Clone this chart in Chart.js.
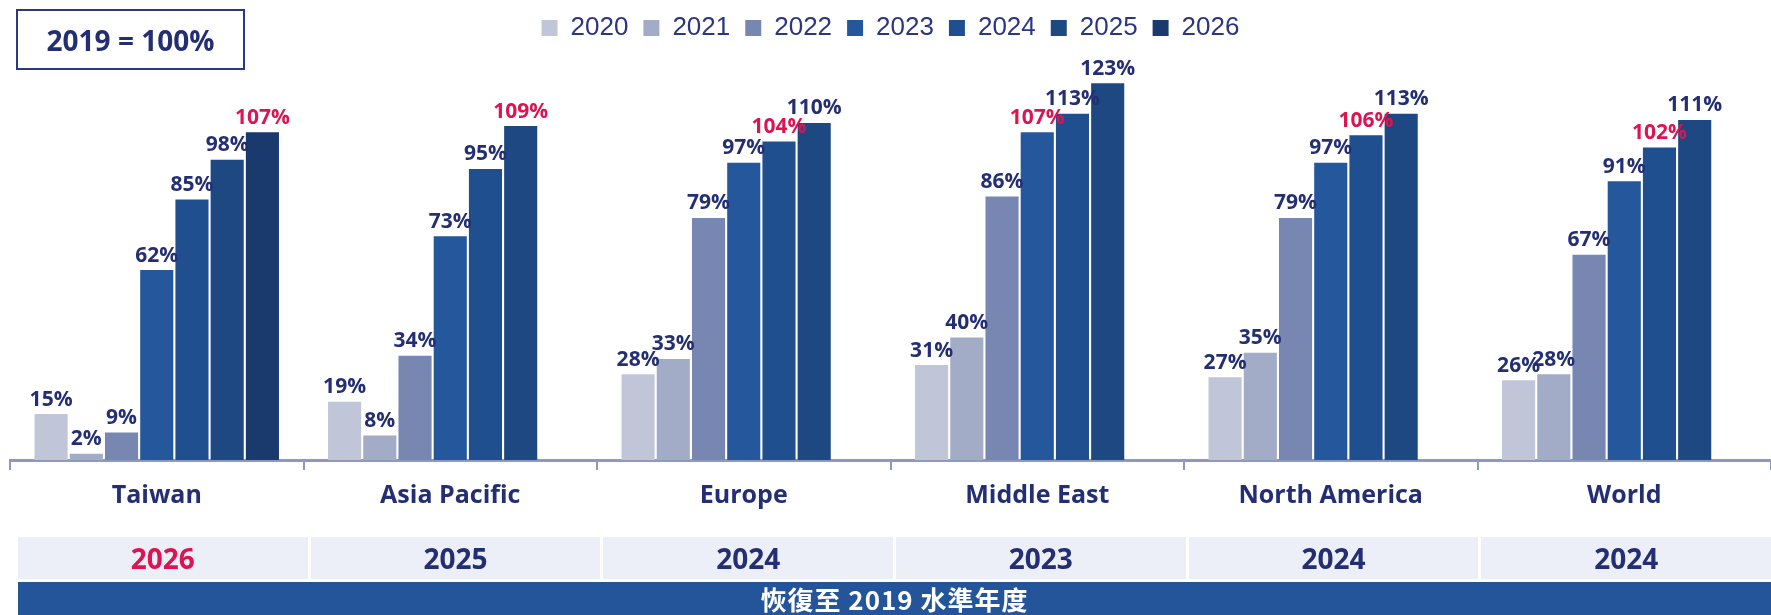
<!DOCTYPE html>
<html>
<head>
<meta charset="utf-8">
<script src="https://cdn.jsdelivr.net/npm/chart.js@4.4.1/dist/chart.umd.min.js"></script>
<style>
  body { margin: 0; background: #fff; }
  #wrap { position: relative; width: 1771px; height: 615px; overflow: hidden; }
  #chartBox { position: absolute; left: 0; top: 0; width: 1771px; height: 615px; }
  #baseBox {
    position: absolute; left: 16px; top: 9px; width: 225px; height: 57px;
    border: 2px solid #2b3a80; color: #232f72;
    font: bold 28px "Open Sans", sans-serif;
    display: flex; align-items: center; justify-content: center;
  }
  #yearRow { position: absolute; left: 18px; top: 537px; width: 1753px; height: 42px; display: flex; gap: 3px; }
  #yearRow div {
    flex: 1; background: #eceef8; color: #232f72;
    font: bold 28px "Open Sans", sans-serif;
    display: flex; align-items: center; justify-content: center;
  }
  #banner {
    position: absolute; left: 18px; top: 582px; width: 1753px; height: 33px;
    background: #24559b; color: #fff;
    font: bold 26px "Noto Sans CJK TC", sans-serif; letter-spacing: 1px;
    display: flex; align-items: center; justify-content: center;
  }
</style>
</head>
<body>
<div id="wrap">
  <div id="chartBox"><canvas id="recovery"></canvas></div>
  <div id="baseBox">2019 = 100%</div>
  <div id="yearRow"></div>
  <div id="banner">恢復至 2019 水準年度</div>
</div>
<script>
const regions = ['Taiwan', 'Asia Pacific', 'Europe', 'Middle East', 'North America', 'World'];
const years = ['2020', '2021', '2022', '2023', '2024', '2025', '2026'];

// index vs 2019 (%)
const v2020 = [15, 19, 28, 31, 27, 26];
const v2021 = [2, 8, 33, 40, 35, 28];
const v2022 = [9, 34, 79, 86, 79, 67];
const v2023 = [62, 73, 97, 107, 97, 91];
const v2024 = [85, 95, 104, 113, 106, 102];
const v2025 = [98, 109, 110, 123, 113, 111];
const v2026 = [107, null, null, null, null, null];

// year each region gets back to the 2019 level
const recoveryYear = ['2026', '2025', '2024', '2023', '2024', '2024'];

const yearColors = ['#c0c5d8', '#a3acc7', '#7787b2', '#24579c', '#1f4f8f', '#1e4882', '#1a3a6e'];
const navy = '#232f72';
const red = '#dc1451';

const series = [v2020, v2021, v2022, v2023, v2024, v2025, v2026];

// percent labels above each bar, red on the recovery year
const barLabels = {
  id: 'barLabels',
  afterDatasetsDraw(chart) {
    const ctx = chart.ctx;
    ctx.save();
    ctx.font = 'bold 21px "Open Sans", sans-serif';
    ctx.textAlign = 'center';
    ctx.textBaseline = 'bottom';
    chart.data.datasets.forEach((ds, d) => {
      const meta = chart.getDatasetMeta(d);
      meta.data.forEach((bar, i) => {
        const v = ds.data[i];
        if (v == null) return;
        ctx.fillStyle = years[d] === recoveryYear[i] ? red : navy;
        ctx.fillText(v + '%', bar.x, bar.y - 4);
      });
    });
    ctx.restore();
  }
};

new Chart(document.getElementById('recovery'), {
  type: 'bar',
  data: {
    labels: regions,
    datasets: series.map((vals, d) => ({
      label: years[d],
      data: vals,
      backgroundColor: yearColors[d],
      borderWidth: 0,
      barPercentage: 0.94,
      categoryPercentage: 0.84
    }))
  },
  options: {
    responsive: true,
    maintainAspectRatio: false,
    animation: false,
    layout: { padding: { left: 10, right: 0, top: 0, bottom: 93 } },
    plugins: {
      legend: {
        position: 'top',
        labels: {
          boxWidth: 16,
          boxHeight: 16,
          padding: 15,
          color: '#2b3583',
          font: { family: '"Liberation Sans", sans-serif', size: 26 }
        }
      },
      tooltip: { enabled: false }
    },
    scales: {
      x: {
        grid: { display: true, drawOnChartArea: false, drawTicks: true, tickLength: 10, color: '#8d9ac0', lineWidth: 2 },
        border: { display: true, color: '#8d9ac0', width: 3 },
        ticks: { color: navy, padding: 11, font: { family: '"Open Sans", sans-serif', size: 25, weight: 'bold' } }
      },
      y: { display: false, min: 0, max: 133.5 }
    }
  },
  plugins: [barLabels]
});

// recovery year row under the regions
const row = document.getElementById('yearRow');
recoveryYear.forEach((y, i) => {
  const cell = document.createElement('div');
  cell.textContent = y;
  if (i === 0) cell.style.color = red;
  row.appendChild(cell);
});
</script>
</body>
</html>
